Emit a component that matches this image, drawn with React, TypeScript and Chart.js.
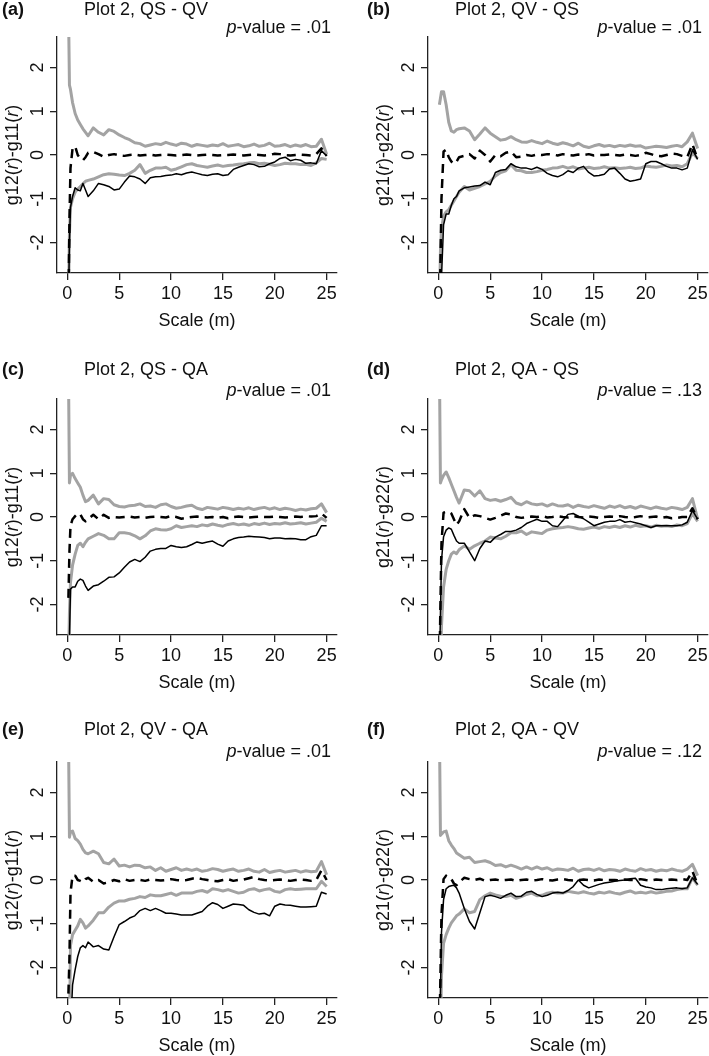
import React, { useEffect, useRef } from "react";
import { Chart, registerables } from "chart.js";

Chart.register(...registerables);

// ---------- data ----------
const SCALE_M = [
  0.1, 0.2, 0.3, 0.5, 0.75, 1, 1.25, 1.5, 1.75,
  2, 2.5, 3, 3.5, 4, 4.5, 5, 5.5, 6, 6.5,
  7, 7.5, 8, 8.5, 9, 9.5, 10, 10.5, 11, 11.5,
  12, 12.5, 13, 13.5, 14, 14.5, 15, 15.5, 16, 16.5,
  17, 17.5, 18, 18.5, 19, 19.5, 20, 20.5, 21, 21.5,
  22, 22.5, 23, 23.5, 24, 24.5, 25,
];
const X_TICKS = [0, 5, 10, 15, 20, 25];
const Y_TICKS = [-2, -1, 0, 1, 2];

const PANEL_TAGS = ["(a)", "(b)", "(c)", "(d)", "(e)", "(f)"];
const PANEL_TITLES = [
  "Plot 2, QS - QV",
  "Plot 2, QV - QS",
  "Plot 2, QS - QA",
  "Plot 2, QA - QS",
  "Plot 2, QV - QA",
  "Plot 2, QA - QV",
];
const P_VALUES = [".01", ".01", ".01", ".13", ".01", ".12"];

// (a)
const UPPER_A = [3.5, 1.6, 1.5, 1.2, 0.95, 0.8, 0.7, 0.6, 0.52,
  0.44, 0.62, 0.52, 0.46, 0.58, 0.54, 0.46, 0.4, 0.35, 0.28,
  0.26, 0.2, 0.23, 0.26, 0.24, 0.29, 0.25, 0.22, 0.27, 0.25,
  0.2, 0.24, 0.22, 0.2, 0.23, 0.21, 0.26, 0.2, 0.22, 0.24,
  0.19, 0.21, 0.25, 0.2, 0.22, 0.27, 0.2, 0.21, 0.24, 0.19,
  0.23, 0.2, 0.24, 0.19, 0.2, 0.36, 0.02];
const LOWER_A = [-3.5, -1.8, -1.2, -1.0, -0.85, -0.78, -0.72, -0.66, -0.6,
  -0.58, -0.55, -0.5, -0.45, -0.43, -0.44, -0.46, -0.47, -0.42, -0.35,
  -0.22, -0.42, -0.35, -0.3, -0.3, -0.28, -0.35, -0.32, -0.27, -0.22,
  -0.2, -0.24, -0.26, -0.28, -0.25, -0.23, -0.26, -0.24, -0.23, -0.21,
  -0.2, -0.18, -0.17, -0.2, -0.19, -0.21, -0.24, -0.22, -0.19, -0.2,
  -0.2, -0.22, -0.21, -0.24, -0.18, -0.08, -0.1];
const THEO_A = [-3.5, -1.5, -0.3, 0.15, 0.2, 0.0, -0.08, -0.12, -0.05,
  0.05, 0.07, 0.02, -0.04, 0.0, 0.02, -0.01, -0.02, 0.0, 0.01,
  -0.01, 0.0, 0.01, -0.01, 0.0, 0.01, 0.0, -0.01, 0.0, 0.01,
  0.0, -0.01, 0.0, 0.01, 0.0, -0.01, 0.0, 0.0, 0.01, 0.0,
  -0.01, 0.0, 0.01, 0.0, -0.01, 0.0, 0.03, 0.02, 0.0, -0.01,
  0.0, 0.01, 0.0, -0.01, 0.02, 0.15, -0.02];
const OBS_A = [-3.5, -2.0, -1.2, -0.95, -0.75, -0.8, -0.82, -0.65, -0.8,
  -0.95, -0.82, -0.65, -0.68, -0.72, -0.8, -0.78, -0.62, -0.48, -0.5,
  -0.55, -0.65, -0.52, -0.5, -0.49, -0.47, -0.46, -0.43, -0.45, -0.41,
  -0.39, -0.42, -0.45, -0.47, -0.44, -0.43, -0.47, -0.45, -0.33, -0.28,
  -0.24, -0.2, -0.22, -0.27, -0.26, -0.2, -0.16, -0.08, -0.05, -0.13,
  -0.1, -0.12, -0.19, -0.18, -0.2, 0.1, -0.02];

// (b)
const UPPER_B = [1.15, 1.3, 1.45, 1.45, 1.15, 0.75, 0.55, 0.52, 0.58,
  0.6, 0.62, 0.55, 0.35, 0.48, 0.62, 0.5, 0.42, 0.34, 0.36,
  0.42, 0.35, 0.3, 0.29, 0.33, 0.29, 0.26, 0.32, 0.27, 0.24,
  0.28, 0.25, 0.21, 0.27, 0.2, 0.17, 0.21, 0.24, 0.2, 0.22,
  0.19, 0.22, 0.2, 0.23, 0.2, 0.21, 0.16, 0.18, 0.2, 0.19,
  0.17, 0.2, 0.22, 0.19, 0.3, 0.5, 0.15];
const LOWER_B = [-3.5, -2.2, -1.7, -1.4, -1.3, -1.25, -1.15, -1.05, -0.95,
  -0.85, -0.72, -0.8, -0.76, -0.72, -0.66, -0.6, -0.48, -0.4, -0.36,
  -0.22, -0.35, -0.36, -0.4, -0.4, -0.38, -0.35, -0.33, -0.3, -0.29,
  -0.26, -0.3, -0.27, -0.32, -0.3, -0.28, -0.31, -0.3, -0.27, -0.3,
  -0.29, -0.31, -0.3, -0.28, -0.31, -0.3, -0.25, -0.27, -0.28, -0.26,
  -0.23, -0.25, -0.24, -0.27, -0.2, 0.05, -0.08];
const THEO_B = [-3.5, -2.5, -1.0, 0.08, 0.12, -0.05, -0.15, -0.2, -0.15,
  -0.05, -0.02, 0.02, -0.08, 0.1, 0.0, -0.15, 0.0, -0.03, 0.05,
  0.08, -0.05, -0.04, 0.0, -0.02, 0.01, 0.0, 0.02, 0.01, -0.01,
  0.02, 0.0, -0.01, 0.01, 0.0, 0.02, -0.01, 0.0, 0.0, 0.01,
  0.0, -0.01, 0.01, 0.0, -0.02, 0.0, 0.05, 0.02, -0.02, -0.03,
  0.0, 0.03, 0.02, -0.02, -0.05, 0.25, -0.1];
const OBS_B = [-3.5, -3.5, -2.8, -1.6, -1.35, -1.35, -1.15, -1.0, -0.95,
  -0.82, -0.75, -0.73, -0.71, -0.7, -0.62, -0.68, -0.4, -0.35, -0.33,
  -0.2, -0.27, -0.3, -0.3, -0.33, -0.28, -0.33, -0.42, -0.47, -0.5,
  -0.45, -0.36, -0.4, -0.3, -0.26, -0.4, -0.48, -0.47, -0.44, -0.32,
  -0.3, -0.42, -0.55, -0.6, -0.58, -0.55, -0.2, -0.15, -0.15, -0.2,
  -0.26, -0.3, -0.3, -0.34, -0.3, 0.12, -0.1];

// (c)
const UPPER_C = [3.5, 0.78, 0.95, 1.0, 0.88, 0.78, 0.68, 0.5, 0.35,
  0.38, 0.5, 0.3, 0.42, 0.4, 0.28, 0.24, 0.23, 0.26, 0.27,
  0.3, 0.24, 0.25, 0.22, 0.28, 0.3, 0.24, 0.2, 0.22, 0.25,
  0.27, 0.2, 0.17, 0.22, 0.2, 0.18, 0.22, 0.2, 0.17, 0.2,
  0.18, 0.21, 0.17, 0.2, 0.22, 0.18, 0.21, 0.17, 0.2, 0.18,
  0.15, 0.18, 0.16, 0.19, 0.2, 0.3, 0.1];
const LOWER_C = [-3.5, -2.2, -1.5, -1.1, -0.85, -0.65, -0.6, -0.68, -0.58,
  -0.5, -0.44, -0.38, -0.42, -0.5, -0.5, -0.36, -0.36, -0.38, -0.43,
  -0.5, -0.43, -0.32, -0.27, -0.29, -0.3, -0.27, -0.2, -0.24, -0.22,
  -0.2, -0.22, -0.18, -0.2, -0.16, -0.19, -0.21, -0.17, -0.15, -0.18,
  -0.16, -0.19, -0.15, -0.17, -0.14, -0.17, -0.15, -0.16, -0.13, -0.16,
  -0.15, -0.13, -0.16, -0.14, -0.12, -0.03, -0.1];
const THEO_C = [-1.85, -0.8, -0.2, -0.05, 0.02, 0.08, 0.06, -0.05, -0.1,
  -0.05, 0.05, -0.05, 0.05, -0.02, 0.0, -0.01, 0.0, 0.01, -0.01,
  0.0, -0.02, 0.0, 0.01, 0.0, -0.01, 0.02, 0.0, -0.04, -0.02,
  0.0, 0.01, 0.0, -0.01, 0.0, -0.02, 0.0, -0.03, 0.0, 0.01,
  0.0, -0.01, 0.0, 0.01, 0.0, 0.0, 0.01, 0.0, -0.01, 0.0,
  0.01, 0.0, 0.02, 0.01, 0.02, 0.08, -0.02];
const OBS_C = [-3.5, -2.8, -1.65, -1.6, -1.6, -1.47, -1.42, -1.45, -1.58,
  -1.68, -1.58, -1.55, -1.47, -1.38, -1.37, -1.28, -1.15, -1.03, -0.97,
  -1.02, -0.92, -0.78, -0.74, -0.72, -0.72, -0.65, -0.68, -0.7, -0.68,
  -0.63, -0.57, -0.6, -0.57, -0.55, -0.62, -0.67, -0.55, -0.5, -0.47,
  -0.46, -0.44, -0.45, -0.46, -0.47, -0.5, -0.48, -0.48, -0.5, -0.49,
  -0.5, -0.52, -0.52, -0.45, -0.42, -0.2, -0.2];

// (d)
const UPPER_D = [3.5, 0.78, 0.85, 0.95, 1.03, 0.9, 0.75, 0.6, 0.45,
  0.32, 0.62, 0.6, 0.48, 0.6, 0.42, 0.38, 0.4, 0.36, 0.4,
  0.45, 0.32, 0.28, 0.35, 0.3, 0.28, 0.3, 0.25, 0.3, 0.26,
  0.25, 0.28, 0.22, 0.27, 0.24, 0.22, 0.26, 0.23, 0.2, 0.25,
  0.22, 0.26, 0.21, 0.24, 0.2, 0.25, 0.22, 0.19, 0.23, 0.2,
  0.18, 0.22, 0.2, 0.17, 0.22, 0.42, -0.05];
const LOWER_D = [-3.5, -3.5, -2.5, -1.6, -1.2, -1.0, -0.85, -0.8, -0.84,
  -0.75, -0.66, -0.74, -0.66, -0.6, -0.55, -0.46, -0.48, -0.5, -0.44,
  -0.36, -0.36, -0.32, -0.4, -0.34, -0.36, -0.38, -0.3, -0.27, -0.25,
  -0.24, -0.22, -0.24, -0.27, -0.28, -0.25, -0.23, -0.26, -0.22, -0.24,
  -0.21, -0.24, -0.2, -0.23, -0.19, -0.22, -0.2, -0.23, -0.19, -0.21,
  -0.2, -0.22, -0.18, -0.2, -0.15, 0.08, -0.1];
const THEO_D = [-3.5, -2.0, -0.6, 0.1, 0.12, 0.12, 0.08, -0.05, -0.18,
  -0.1, 0.18, -0.02, 0.04, 0.02, -0.02, -0.06, -0.02, 0.03, 0.08,
  0.06, 0.0, -0.02, 0.0, 0.01, 0.0, 0.02, -0.01, 0.0, 0.02,
  0.0, -0.01, 0.02, 0.0, -0.01, 0.01, 0.0, -0.02, 0.0, 0.01,
  0.0, 0.02, 0.0, -0.01, 0.0, 0.02, -0.01, 0.0, 0.01, -0.02,
  0.0, -0.03, -0.02, 0.0, 0.0, 0.2, -0.05];
const OBS_D = [-3.5, -2.2, -1.0, -0.45, -0.3, -0.25, -0.28, -0.42, -0.55,
  -0.6, -0.6, -0.8, -1.0, -0.72, -0.55, -0.58, -0.46, -0.4, -0.33,
  -0.33, -0.3, -0.24, -0.15, -0.1, -0.05, -0.1, -0.1, -0.2, -0.22,
  -0.08, 0.06, 0.08, 0.02, -0.04, -0.12, -0.2, -0.16, -0.12, -0.1,
  -0.1, -0.06, -0.12, -0.1, -0.13, -0.16, -0.2, -0.24, -0.2, -0.2,
  -0.2, -0.2, -0.2, -0.18, -0.12, 0.15, -0.05];

// (e)
const UPPER_E = [3.5, 0.98, 1.1, 1.12, 0.95, 0.9, 0.82, 0.7, 0.62,
  0.6, 0.66, 0.6, 0.4, 0.37, 0.48, 0.32, 0.34, 0.3, 0.34,
  0.33, 0.28, 0.3, 0.22, 0.28, 0.2, 0.24, 0.28, 0.22, 0.25,
  0.22, 0.25, 0.2, 0.22, 0.26, 0.24, 0.2, 0.23, 0.25, 0.2,
  0.22, 0.25, 0.2, 0.18, 0.24, 0.17, 0.2, 0.22, 0.18, 0.2,
  0.22, 0.18, 0.21, 0.19, 0.2, 0.42, 0.12];
const LOWER_E = [-3.5, -3.5, -1.5, -1.25, -1.15, -1.05, -0.9, -0.98, -1.1,
  -1.05, -0.92, -0.75, -0.75, -0.62, -0.53, -0.48, -0.48, -0.44, -0.42,
  -0.38, -0.4, -0.34, -0.36, -0.36, -0.33, -0.3, -0.35, -0.3, -0.3,
  -0.3, -0.26, -0.24, -0.28, -0.2, -0.22, -0.25, -0.22, -0.26, -0.3,
  -0.28, -0.22, -0.2, -0.25, -0.22, -0.2, -0.26, -0.28, -0.22, -0.2,
  -0.22, -0.21, -0.2, -0.2, -0.2, -0.03, -0.15];
const THEO_E = [-2.6, -1.8, -0.3, 0.1, 0.1, 0.0, -0.02, -0.05, 0.02,
  0.05, -0.04, 0.0, -0.08, -0.05, 0.0, -0.03, 0.02, -0.02, 0.0,
  0.0, -0.02, 0.01, 0.0, -0.01, 0.0, 0.02, 0.0, -0.01, 0.0,
  0.03, 0.05, 0.02, 0.0, -0.02, -0.03, 0.0, 0.02, -0.02, 0.0,
  0.01, 0.04, 0.07, 0.02, 0.0, -0.01, 0.0, 0.01, 0.0, -0.02,
  0.0, 0.01, 0.0, -0.02, 0.0, 0.22, 0.0];
const OBS_E = [-3.5, -3.5, -3.5, -2.4, -2.05, -1.75, -1.55, -1.5, -1.55,
  -1.42, -1.53, -1.5, -1.58, -1.6, -1.3, -1.02, -0.95, -0.87, -0.82,
  -0.7, -0.65, -0.7, -0.65, -0.7, -0.76, -0.76, -0.78, -0.8, -0.8,
  -0.8, -0.76, -0.72, -0.6, -0.52, -0.56, -0.65, -0.6, -0.55, -0.56,
  -0.58, -0.68, -0.74, -0.78, -0.76, -0.82, -0.6, -0.55, -0.57, -0.58,
  -0.6, -0.62, -0.62, -0.61, -0.6, -0.28, -0.32];

// (f)
const UPPER_F = [3.5, 1.02, 1.05, 1.1, 1.12, 0.9, 0.8, 0.72, 0.62,
  0.58, 0.5, 0.52, 0.4, 0.42, 0.44, 0.4, 0.33, 0.35, 0.3,
  0.34, 0.3, 0.25, 0.3, 0.25, 0.3, 0.25, 0.28, 0.22, 0.25,
  0.24, 0.22, 0.27, 0.2, 0.24, 0.25, 0.22, 0.26, 0.21, 0.24,
  0.23, 0.2, 0.25, 0.22, 0.2, 0.26, 0.22, 0.24, 0.2, 0.23,
  0.21, 0.25, 0.22, 0.2, 0.25, 0.36, 0.1];
const LOWER_F = [-3.5, -3.5, -2.2, -1.45, -1.25, -1.1, -0.98, -0.9, -0.82,
  -0.78, -0.66, -0.75, -0.72, -0.45, -0.36, -0.3, -0.34, -0.37, -0.38,
  -0.35, -0.42, -0.38, -0.33, -0.3, -0.36, -0.35, -0.3, -0.28, -0.3,
  -0.3, -0.26, -0.28, -0.3, -0.27, -0.3, -0.32, -0.28, -0.3, -0.27,
  -0.3, -0.32, -0.28, -0.25, -0.3, -0.28, -0.3, -0.27, -0.3, -0.28,
  -0.26, -0.25, -0.22, -0.2, -0.2, 0.05, -0.12];
const THEO_F = [-3.5, -2.2, -0.8, 0.02, 0.1, 0.05, 0.02, -0.08, -0.12,
  -0.05, 0.05, 0.02, 0.0, 0.03, -0.02, 0.0, 0.01, -0.01, 0.0,
  0.01, -0.02, 0.0, 0.01, -0.01, 0.0, 0.02, 0.0, -0.01, 0.01,
  0.02, 0.0, -0.01, 0.0, 0.01, 0.0, -0.01, 0.01, 0.0, 0.0,
  0.0, -0.01, 0.01, 0.0, 0.0, 0.02, 0.0, -0.01, 0.01, 0.0,
  0.0, 0.01, 0.0, 0.02, 0.0, 0.2, -0.1];
const OBS_F = [-3.5, -2.6, -1.2, -0.45, -0.2, -0.15, -0.13, -0.12, -0.18,
  -0.3, -0.65, -0.95, -1.12, -0.75, -0.38, -0.35, -0.38, -0.42, -0.35,
  -0.3, -0.38, -0.37, -0.28, -0.26, -0.33, -0.38, -0.35, -0.3, -0.28,
  -0.3, -0.24, -0.15, 0.0, -0.12, -0.18, -0.14, -0.1, -0.07, -0.05,
  -0.03, -0.01, 0.0, 0.03, 0.04, -0.12, -0.16, -0.18, -0.22, -0.22,
  -0.2, -0.19, -0.18, -0.2, -0.18, 0.05, -0.1];

// ---------- layout / style ----------
const FONT_FAMILY = '"Liberation Sans", Arial, Helvetica, sans-serif';
const GREY = "#a3a3a3";
const INK = "#111111";
const PAD_L = 12;
const PAD_T = 25;
const CANVAS_W = 383;
const CANVAS_H = 362;
const COL_X = [0, 371];
const ROW_Y = [0, 362, 725];
const TITLE_DY = [10, 8, 5];
const PVAL_DY = [28, 29, 27];

type Seg = { t: string; italic?: boolean; bold?: boolean };

function drawSegs(ctx: CanvasRenderingContext2D, segs: Seg[], x: number, y: number, align: "left" | "center" | "right") {
  const fonts = segs.map((s) => `${s.italic ? "italic " : ""}${s.bold ? "bold " : ""}18px ${FONT_FAMILY}`);
  const widths = segs.map((s, i) => {
    ctx.font = fonts[i];
    return ctx.measureText(s.t).width;
  });
  const total = widths.reduce((a, b) => a + b, 0);
  let cx = align === "center" ? x - total / 2 : align === "right" ? x - total : x;
  ctx.textAlign = "left";
  ctx.textBaseline = "middle";
  segs.forEach((s, i) => {
    ctx.font = fonts[i];
    ctx.fillText(s.t, cx, y);
    cx += widths[i];
  });
}

type PanelDef = {
  idx: number;
  upper: number[];
  lower: number[];
  theo: number[];
  obs: number[];
};

const PANELS: PanelDef[] = [
  { idx: 0, upper: UPPER_A, lower: LOWER_A, theo: THEO_A, obs: OBS_A },
  { idx: 1, upper: UPPER_B, lower: LOWER_B, theo: THEO_B, obs: OBS_B },
  { idx: 2, upper: UPPER_C, lower: LOWER_C, theo: THEO_C, obs: OBS_C },
  { idx: 3, upper: UPPER_D, lower: LOWER_D, theo: THEO_D, obs: OBS_D },
  { idx: 4, upper: UPPER_E, lower: LOWER_E, theo: THEO_E, obs: OBS_E },
  { idx: 5, upper: UPPER_F, lower: LOWER_F, theo: THEO_F, obs: OBS_F },
];

function makeTextPlugin(idx: number) {
  const col = idx % 2;
  const row = Math.floor(idx / 2);
  const yTitle: Seg[] =
    col === 0
      ? [{ t: "g12(" }, { t: "r", italic: true }, { t: ")-g11(" }, { t: "r", italic: true }, { t: ")" }]
      : [{ t: "g21(" }, { t: "r", italic: true }, { t: ")-g22(" }, { t: "r", italic: true }, { t: ")" }];
  return {
    id: "panelText" + idx,
    afterDraw(chart: any) {
      const { ctx, chartArea, scales } = chart;
      const ys = scales.y;
      ctx.save();
      ctx.fillStyle = INK;
      // rotated y tick labels (parallel to the axis)
      ctx.font = `18px ${FONT_FAMILY}`;
      for (const t of ys.ticks) {
        const py = ys.getPixelForValue(t.value);
        ctx.save();
        ctx.translate(chartArea.left - 19, py);
        ctx.rotate(-Math.PI / 2);
        ctx.textAlign = "center";
        ctx.textBaseline = "middle";
        ctx.fillText(String(t.value), 0, 0);
        ctx.restore();
      }
      // y axis title
      ctx.save();
      ctx.translate(PAD_L + 13, (chartArea.top + chartArea.bottom) / 2);
      ctx.rotate(-Math.PI / 2);
      drawSegs(ctx, yTitle, 0, 0, "center");
      ctx.restore();
      // x axis title
      drawSegs(ctx, [{ t: "Scale (m)" }], (chartArea.left + chartArea.right) / 2, chartArea.bottom + 48, "center");
      // panel tag & title
      drawSegs(ctx, [{ t: PANEL_TAGS[idx], bold: true }], PAD_L + (col === 0 ? 2 : -4), PAD_T + TITLE_DY[row], "left");
      drawSegs(ctx, [{ t: PANEL_TITLES[idx] }], PAD_L + 84, PAD_T + TITLE_DY[row], "left");
      // p-value
      drawSegs(ctx, [{ t: "p", italic: true }, { t: "-value = " + P_VALUES[idx] }], PAD_L + 331, PAD_T + PVAL_DY[row], "right");
      ctx.restore();
    },
  };
}

function Panel({ def }: { def: PanelDef }) {
  const ref = useRef<HTMLCanvasElement>(null);
  const col = def.idx % 2;
  const row = Math.floor(def.idx / 2);
  useEffect(() => {
    const mk = (ys: number[], color: string, width: number, dash: number[]) => ({
      data: SCALE_M.map((x, i) => ({ x, y: ys[i] })),
      borderColor: color,
      borderWidth: width,
      borderDash: dash,
      borderJoinStyle: "round" as const,
      pointRadius: 0,
      fill: false,
      tension: 0,
    });
    const axisCommon = {
      grid: { display: true, drawOnChartArea: false, drawTicks: true, tickLength: 7, color: "#222", lineWidth: 1.3 },
      border: { display: true, color: "#222", width: 1.3 },
    };
    const chart = new Chart(ref.current as HTMLCanvasElement, {
      type: "line",
      data: {
        datasets: [
          mk(def.obs, "#000000", 1.5, []),
          mk(def.theo, "#000000", 2.5, [9, 6]),
          mk(def.upper, GREY, 3, []),
          mk(def.lower, GREY, 3, []),
        ],
      },
      options: {
        animation: false,
        responsive: false,
        devicePixelRatio: 1,
        layout: { padding: { top: PAD_T + 37, right: CANVAS_W - (PAD_L + 337), left: 0, bottom: 0 } },
        plugins: { legend: { display: false }, tooltip: { enabled: false } },
        scales: {
          x: {
            type: "linear",
            position: "bottom",
            min: -1,
            max: 26,
            ...axisCommon,
            ticks: { color: INK, font: { size: 18, family: FONT_FAMILY }, padding: 3, maxRotation: 0 },
            afterBuildTicks: (s: any) => {
              s.ticks = X_TICKS.map((v) => ({ value: v }));
            },
            afterFit: (s: any) => {
              s.height = CANVAS_H - (PAD_T + 273);
            },
          },
          y: {
            type: "linear",
            min: -2.7,
            max: 2.7,
            ...axisCommon,
            ticks: { display: false },
            afterBuildTicks: (s: any) => {
              s.ticks = Y_TICKS.map((v) => ({ value: v }));
            },
            afterFit: (s: any) => {
              s.width = PAD_L + 57;
            },
          },
        },
      } as any,
      plugins: [makeTextPlugin(def.idx)],
    });
    return () => chart.destroy();
  }, []);
  return (
    <canvas
      ref={ref}
      width={CANVAS_W}
      height={CANVAS_H}
      style={{
        position: "absolute",
        left: COL_X[col] - PAD_L,
        top: ROW_Y[row] - PAD_T,
        width: CANVAS_W,
        height: CANVAS_H,
      }}
    />
  );
}

export default function App() {
  return (
    <div
      style={{
        position: "absolute",
        left: 0,
        top: 0,
        width: 709,
        height: 1056,
        overflow: "hidden",
        background: "#ffffff",
      }}
    >
      {PANELS.map((p) => (
        <Panel key={p.idx} def={p} />
      ))}
    </div>
  );
}
